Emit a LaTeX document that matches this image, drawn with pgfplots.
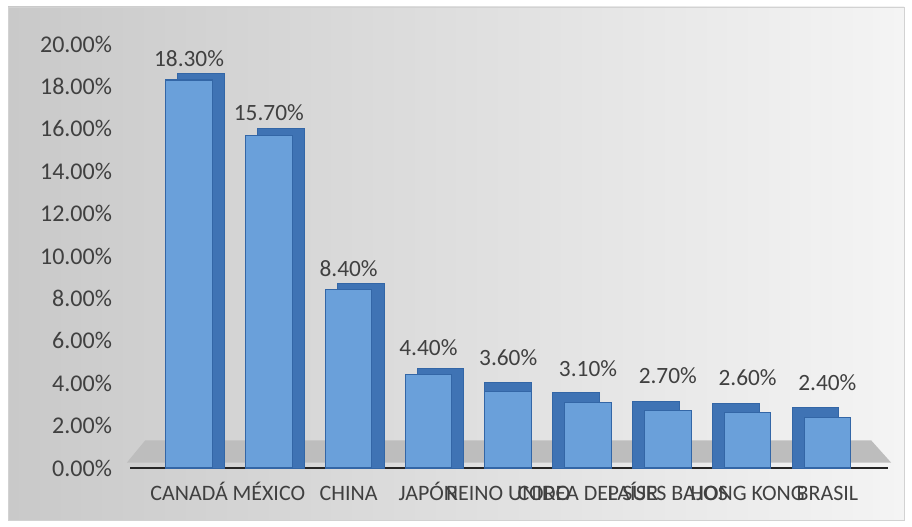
\documentclass[border=0pt]{standalone}
\usepackage{fontspec}
\setmainfont{Carlito}
\usepackage{pgfplots}
\usepackage{pgfplotstable}
\pgfplotsset{compat=1.18}
\definecolor{txt}{HTML}{404040}
\definecolor{front}{HTML}{6AA0DA}
\definecolor{edge}{HTML}{3366A6}
\definecolor{side}{HTML}{3F73B4}
\definecolor{bgdark}{HTML}{C9C9C9}
\definecolor{bglight}{HTML}{F4F4F4}
\definecolor{floorc}{HTML}{BDBDBD}
\pgfplotstableread{
i v off
0 18.3 6
1 15.7 6.75
2 8.4 6
3 4.4 10.5
4 3.6 15.75
5 3.1 15.75
6 2.7 16.5
7 2.6 16.5
8 2.4 15.75
}\data
\begin{document}
\begin{tikzpicture}
\fill[white] (0,0) rectangle (684pt,395.25pt);
\shade[left color=bgdark, right color=bglight] (6pt,5.25pt) rectangle (678pt,390pt);
\draw[gray!35, line width=0.6pt] (6pt,5.25pt) rectangle (678pt,390pt);
\begin{axis}[
  at={(97.5pt,44.25pt)}, anchor=south west,
  scale only axis, width=568.5pt, height=318pt,
  xmin=-0.74, xmax=8.76, ymin=0, ymax=20,
  clip=false,
  axis x line=bottom, axis y line=left,
  x axis line style={-, line width=2.2pt, color=black!85},
  y axis line style={draw=none},
  major tick length=0pt,
  xtick={0,...,8},
  xticklabels={CANADÁ, MÉXICO, CHINA, JAPÓN, REINO UNIDO, COREA DEL SUR, PAÍSES BAJOS, HONG KONG, BRASIL},
  ytick={0,2,...,20},
  /pgf/number format/assume math mode=true,
  yticklabel={\pgfmathprintnumber[fixed,fixed zerofill,precision=2]{\tick}\%},
  yticklabel style={font=\fontsize{18}{20}\selectfont, text=txt, xshift=-10pt},
  xticklabel style={font=\fontsize{16.5}{19}\selectfont, text=txt, text height=11pt, text depth=3pt, yshift=-10pt},
]
\fill[floorc] (axis cs:-0.78,0.25) -- (axis cs:8.8,0.25) -- (axis cs:8.55,1.3) -- (axis cs:-0.55,1.3) -- cycle;
\addplot[ybar, bar width=35pt, bar shift=9pt, fill=side, draw=edge, line width=0.6pt,
  restrict x to domain=0:3]
  table[x=i, y expr=\thisrow{v}+0.3] {\data};
\addplot[ybar, bar width=35pt, bar shift=0pt, fill=side, draw=edge, line width=0.6pt,
  restrict x to domain=4:4]
  table[x=i, y expr=\thisrow{v}+0.45] {\data};
\addplot[ybar, bar width=35pt, bar shift=-9pt, fill=side, draw=edge, line width=0.6pt,
  restrict x to domain=5:8]
  table[x=i, y expr=\thisrow{v}+0.45] {\data};
\addplot[ybar, bar width=35pt, bar shift=0pt, fill=front, draw=edge, line width=0.8pt,
  visualization depends on={\thisrow{off} \as \off},
  nodes near coords={\pgfmathprintnumber[fixed,fixed zerofill,precision=2]{\pgfplotspointmeta}\%},
  every node near coord/.append style={font=\fontsize{17.5}{20}\selectfont, text=txt, yshift=\off pt},
  ]
  table[x=i, y=v] {\data};
\end{axis}
\end{tikzpicture}
\end{document}
